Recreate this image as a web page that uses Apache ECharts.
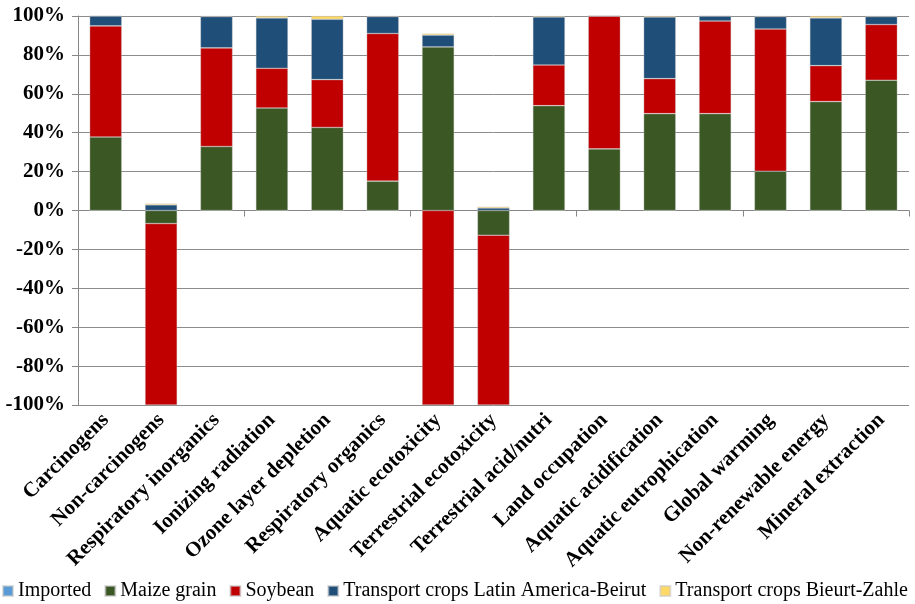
<!DOCTYPE html>
<html>
<head>
<meta charset="utf-8">
<script src="https://cdn.jsdelivr.net/npm/echarts@6/dist/echarts.min.js"></script>
<style>
  html, body { margin: 0; padding: 0; background: #fff; }
  #chart { width: 915px; height: 604px; }
</style>
</head>
<body>
<div id="chart"></div>
<script>
// Impact categories (share of each contributor, %)
const categories = [
  'Carcinogens', 'Non-carcinogens', 'Respiratory inorganics', 'Ionizing radiation',
  'Ozone layer depletion', 'Respiratory organics', 'Aquatic ecotoxicity',
  'Terrestrial ecotoxicity', 'Terrestrial acid/nutri', 'Land occupation',
  'Aquatic acidification', 'Aquatic eutrophication', 'Global warming',
  'Non-renewable energy', 'Mineral extraction'
];
const imported     = [0, 0, 0, 0, 0, 0, 0, 0, 0, 0, 0, 0, 0, 0, 0];
const maizeGrain   = [37.8, -6.7, 32.9, 52.7, 42.7, 15.1, 84.1, -12.7, 53.9, 31.7, 49.8, 49.8, 20.2, 56.0, 67.0];
const soybean      = [57.1, -93.3, 50.7, 20.4, 24.6, 75.9, -100, -87.3, 20.9, 68.3, 18.0, 47.6, 73.1, 18.5, 28.6];
const transportLA  = [5.1, 2.9, 16.1, 25.9, 31.0, 8.7, 6.1, 1.3, 24.7, 0, 31.7, 2.6, 6.4, 24.5, 4.1];
const transportBZ  = [0, 0.7, 0.3, 1.0, 1.7, 0.3, 0.8, 0.7, 0.5, 0, 0.5, 0, 0.3, 1.0, 0.3];
const yTicks = { min: -100, max: 100, step: 20 };

const serif = '"Liberation Serif", "Times New Roman", serif';
const names = ['Imported', 'Maize grain', 'Soybean', 'Transport crops Latin America-Beirut', 'Transport crops Bieurt-Zahle'];
const colors = ['#5B9BD5', '#3B5724', '#C00000', '#1F4E79', '#FFD966'];
const dataSets = [imported, maizeGrain, soybean, transportLA, transportBZ];

const chart = echarts.init(document.getElementById('chart'), null, { renderer: 'canvas' });

chart.setOption({
  animation: false,
  color: colors,
  textStyle: { fontFamily: serif },
  grid: { left: 78, right: 6, top: 16, bottom: 199, containLabel: false },
  legend: {
    left: 2,
    top: 581,
    padding: 0,
    width: 940,
    itemWidth: 10,
    itemHeight: 10,
    itemGap: 13,
    icon: 'rect',
    textStyle: { fontFamily: serif, fontSize: 20, color: '#000' },
    data: names
  },
  xAxis: [
    {
      // category axis drawn through zero, with ticks between bars
      type: 'category',
      data: categories,
      axisLine: { onZero: true, lineStyle: { color: '#868686', width: 1 } },
      axisTick: { show: true, alignWithLabel: false, length: 6, lineStyle: { color: '#868686' } },
      axisLabel: { show: false },
      splitLine: { show: false }
    },
    {
      // labels sit at the bottom of the plot
      type: 'category',
      data: categories,
      position: 'bottom',
      axisLine: { show: false, onZero: false },
      axisTick: { show: false },
      axisLabel: {
        rotate: 45,
        margin: 12,
        interval: 0,
        fontFamily: serif,
        fontWeight: 'bold',
        fontSize: 21,
        color: '#000'
      }
    }
  ],
  yAxis: {
    type: 'value',
    min: yTicks.min,
    max: yTicks.max,
    interval: yTicks.step,
    axisLine: { show: true, lineStyle: { color: '#868686' } },
    axisTick: { show: true, length: 6, lineStyle: { color: '#868686' } },
    axisLabel: {
      formatter: v => v + '%',
      fontFamily: serif,
      fontWeight: 'bold',
      fontSize: 21,
      color: '#000',
      margin: 13
    },
    splitLine: { show: true, lineStyle: { color: '#8C8C8C', width: 1 } }
  },
  series: dataSets.map((d, i) => ({
    name: names[i],
    type: 'bar',
    stack: 'total',
    xAxisIndex: 0,
    barCategoryGap: '42%',
    data: d,
    itemStyle: { color: colors[i], borderColor: 'rgba(200,200,200,0.6)', borderWidth: 0.6 }
  }))
});
</script>
</body>
</html>
